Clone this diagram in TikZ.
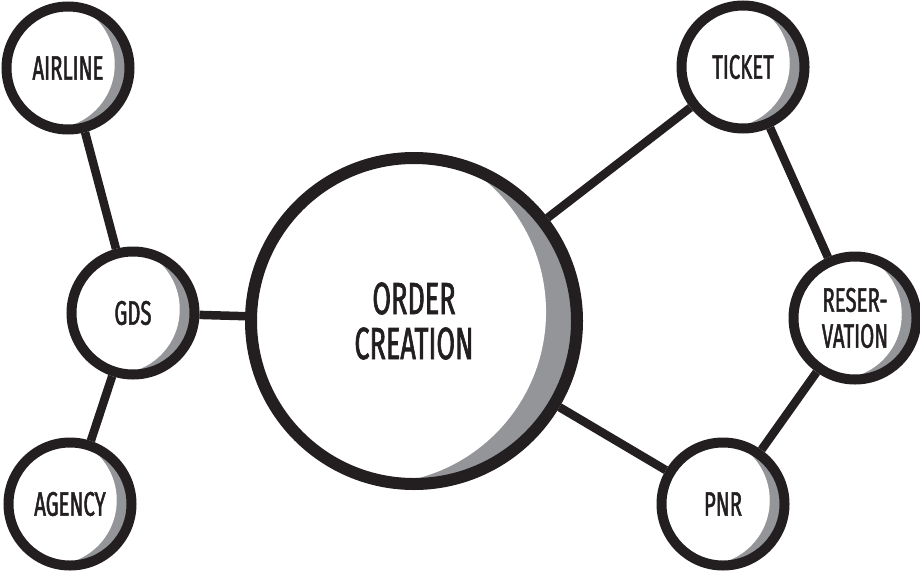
\documentclass[tikz,border=0pt]{standalone}
\usepackage{fontspec}
\usepackage{xcolor}
\usepackage{tikz}
\usetikzlibrary{calc,positioning}
\newfontfamily\handfont[FakeStretch=0.6,FakeBold=1.4]{Fira Sans}
\definecolor{ink}{HTML}{231F20}
\definecolor{crescent}{HTML}{939598}
\tikzset{
  cres dx/.store in=\cresdx, cres dy/.store in=\cresdy, cres r/.store in=\cresr,
  cres dx=-0.29, cres dy=0.06, cres r=1.05,
  bubble/.style={circle, draw=ink, line width=10pt, fill=white, inner sep=0pt,
    minimum size=#1, align=center, text=ink, font=\handfont\fontsize{34}{36}\selectfont,
    path picture={
      \fill[crescent] (path picture bounding box.south west) rectangle (path picture bounding box.north east);
      \path let \p1=(path picture bounding box.east), \p2=(path picture bounding box.center),
        \n1={\x1-\x2} in
        [fill=white] ($(\p2)+(\cresdx*\n1,\cresdy*\n1)$) circle [radius=\cresr*\n1];
    }},
  bigbubble/.style={bubble=#1, line width=12pt, cres dx=-0.245, cres dy=0.056, cres r=1.055,
    font=\handfont\fontsize{45}{45}\selectfont},
  link/.style={draw=ink, line width=8.5pt}
}
\begin{document}
\begin{tikzpicture}[x=1pt,y=-1pt]
\useasboundingbox (0,0) rectangle (920,573);
% nodes
\node[bubble=123pt] (airline) at (68,68) {AIRLINE};
\node[bubble=123pt] (gds) at (133,313) {GDS};
\node[bubble=123pt] (agency) at (70,504) {AGENCY};
\node[bigbubble=326pt] (order) at (414,321) {ORDER\\CREATION};
\node[bubble=123pt] (ticket) at (743,67) {TICKET};
\node[bubble=123pt] (reserv) at (855,318) {RESER-\\VATION};
\node[bubble=123pt] (pnr) at (723,504) {PNR};
% connectors
\draw[link] (airline) -- (gds);
\draw[link] (gds) -- (agency);
\draw[link] (gds) -- (order);
\draw[link] (order) -- (ticket);
\draw[link] (order) -- (pnr);
\draw[link] (ticket) -- (reserv);
\draw[link] (reserv) -- (pnr);
\end{tikzpicture}
\end{document}
